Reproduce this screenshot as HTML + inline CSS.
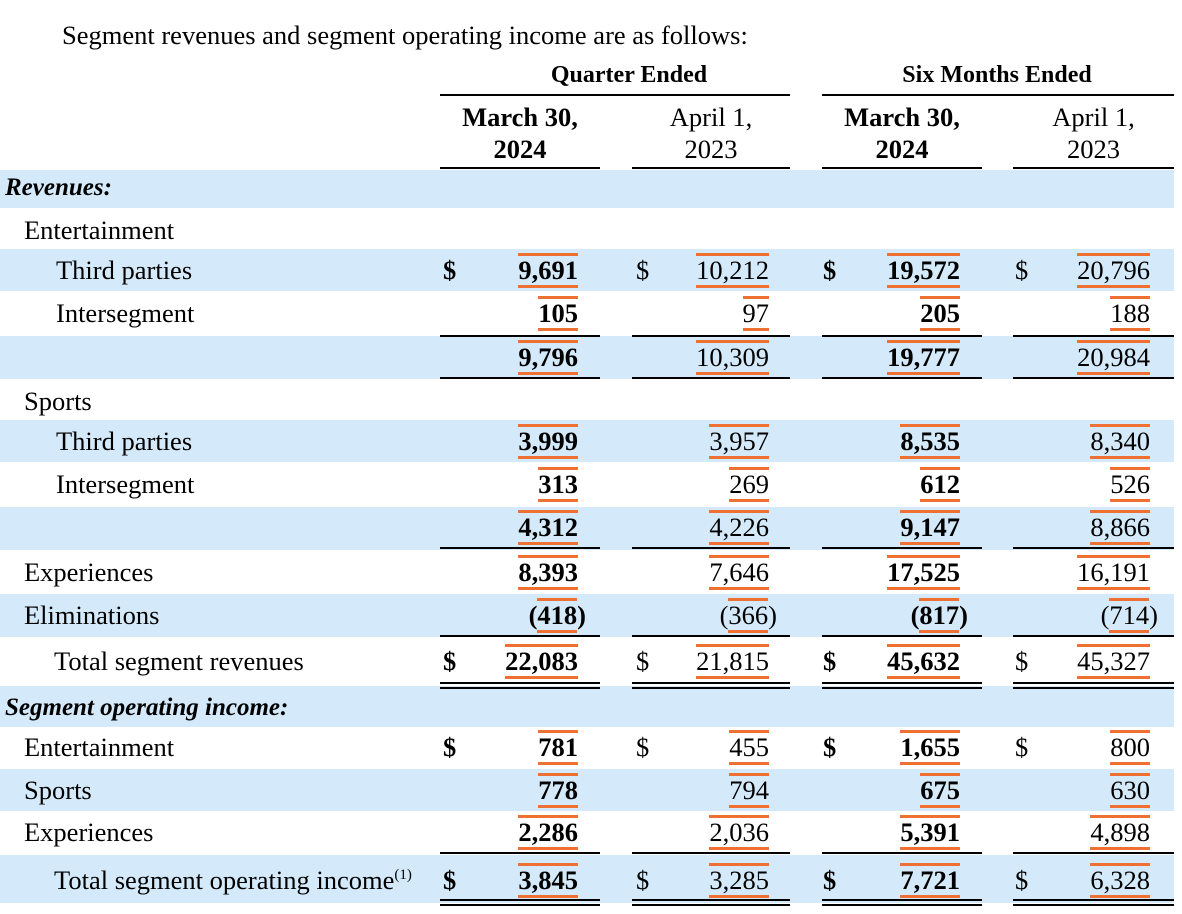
<!DOCTYPE html>
<html><head><meta charset="utf-8">
<style>
body{margin:0;width:1182px;height:914px;background:#fff;position:relative;overflow:hidden;font-family:"Liberation Serif",serif;color:#000}
.a{position:absolute;white-space:nowrap}
.band{position:absolute;left:0;width:1174px;background:#d4eafa}
.ln{position:absolute;height:2px;background:#000}
.t{font-size:26.5px;line-height:28px}
.num{position:absolute;font-size:26.5px;line-height:25px;text-align:right;white-space:nowrap}
.num .v{display:inline-block;border-top:3px solid #ee7133;border-bottom:3px solid #ee7133;padding:2px 0 2px 0}
.b{font-weight:bold}
.h{font-size:26.5px;line-height:32px;text-align:center;position:absolute}
</style></head><body>
<div class="a t" style="left:62px;top:21px">Segment revenues and segment operating income are as follows:</div>
<div class="h b" style="left:479px;width:300px;top:59px;font-size:24px">Quarter Ended</div>
<div class="h b" style="left:847px;width:300px;top:59px;font-size:24px">Six Months Ended</div>
<div class="ln" style="left:440px;width:350px;top:94px"></div>
<div class="ln" style="left:822px;width:352px;top:94px"></div>
<div class="h b" style="left:440px;width:160px;top:101px">March 30,<br>2024</div>
<div class="h" style="left:632px;width:158px;top:101px">April 1,<br>2023</div>
<div class="h b" style="left:822px;width:160px;top:101px">March 30,<br>2024</div>
<div class="h" style="left:1013px;width:161px;top:101px">April 1,<br>2023</div>
<div id="root"></div>
<script>
const labels=["Revenues:","Entertainment","Third parties","Intersegment","","Sports","Third parties","Intersegment","","Experiences","Eliminations","Total segment revenues","Segment operating income:","Entertainment","Sports","Experiences","Total segment operating income"];
const indent=[5,24,56,56,0,24,56,56,0,24,24,54,5,24,24,24,54];
const rowY=[188,230,270,313,357,401,441,484,527,572,615,661,708,747,790,832,880];
const bands=[1,0,1,0,1,0,1,0,1,0,1,0,1,0,1,0,1];
const q2024=[null,null,"9,691","105","9,796",null,"3,999","313","4,312","8,393","(418)","22,083",null,"781","778","2,286","3,845"];
const q2023=[null,null,"10,212","97","10,309",null,"3,957","269","4,226","7,646","(366)","21,815",null,"455","794","2,036","3,285"];
const s2024=[null,null,"19,572","205","19,777",null,"8,535","612","9,147","17,525","(817)","45,632",null,"1,655","675","5,391","7,721"];
const s2023=[null,null,"20,796","188","20,984",null,"8,340","526","8,866","16,191","(714)","45,327",null,"800","630","4,898","6,328"];
const dollarRows=[2,11,13,16];
const singleLineAfter=[3,4,8,10,15];
const doubleLineAfter=[11,16];
const cols=[{l:440,r:600,right:578,ds:443,data:q2024,b:true},{l:632,r:790,right:769,ds:636,data:q2023,b:false},{l:822,r:982,right:960,ds:823,data:s2024,b:true},{l:1013,r:1174,right:1150,ds:1015,data:s2023,b:false}];
const root=document.getElementById('root');
const bandTop=[170,null,249,null,336,null,420,null,507,null,594,null,686,null,769,null,855];
const bandH=[38,0,42,0,43,0,42,0,43,0,43,0,41,0,42,0,48];
rowY.forEach((y,i)=>{
 if(bands[i]){const d=document.createElement('div');d.className='band';d.style.top=bandTop[i]+'px';d.style.height=bandH[i]+'px';
 
 
 root.appendChild(d);}
});
rowY.forEach((y,i)=>{
 const l=document.createElement('div');l.className='a t';
 const head=(i===0||i===12);
 if(head){l.style.fontWeight='bold';l.style.fontStyle='italic';l.style.fontSize='25px';}
 l.innerHTML=labels[i]+(i===16?'<sup style="font-size:15px;vertical-align:10px;line-height:0">(1)</sup>':'');
 l.style.left=indent[i]+'px';l.style.top=(y-14)+'px';
 
 
 root.appendChild(l);
 cols.forEach((c,ci)=>{
  const v=c.data[i];if(v==null)return;
  const n=document.createElement('div');n.className='num'+(c.b?' b':'');
  n.style.right=(1182-c.right-(v[0]==='('?8:0))+'px';n.style.top=(y-17)+'px';
  if(v[0]==='(')n.innerHTML='(<span class="v">'+v.slice(1,-1)+'</span>)';
  else n.innerHTML='<span class="v">'+v+'</span>';
  
  
  root.appendChild(n);
  if(dollarRows.includes(i)){const d=document.createElement('div');d.className='a t'+(c.b?' b':'');d.textContent='$';d.style.left=c.ds+'px';d.style.top=(y-14)+'px';
  
  
  root.appendChild(d);}
 });
});
function line(x,w,y){const d=document.createElement('div');d.className='ln';d.style.left=x+'px';d.style.width=w+'px';d.style.top=y+'px';
 
 
 root.appendChild(d);}
cols.forEach(c=>{
 line(c.l,c.r-c.l,167);
 singleLineAfter.forEach(i=>{const yy=(i===15?852:(bandTop[i+1]!=null?bandTop[i+1]:rowY[i]+21)-1);line(c.l,c.r-c.l,yy);});
 doubleLineAfter.forEach(i=>{const yy=(i===11?682:899);line(c.l,c.r-c.l,yy);line(c.l,c.r-c.l,yy+5);});
});
</script>
</body></html>
